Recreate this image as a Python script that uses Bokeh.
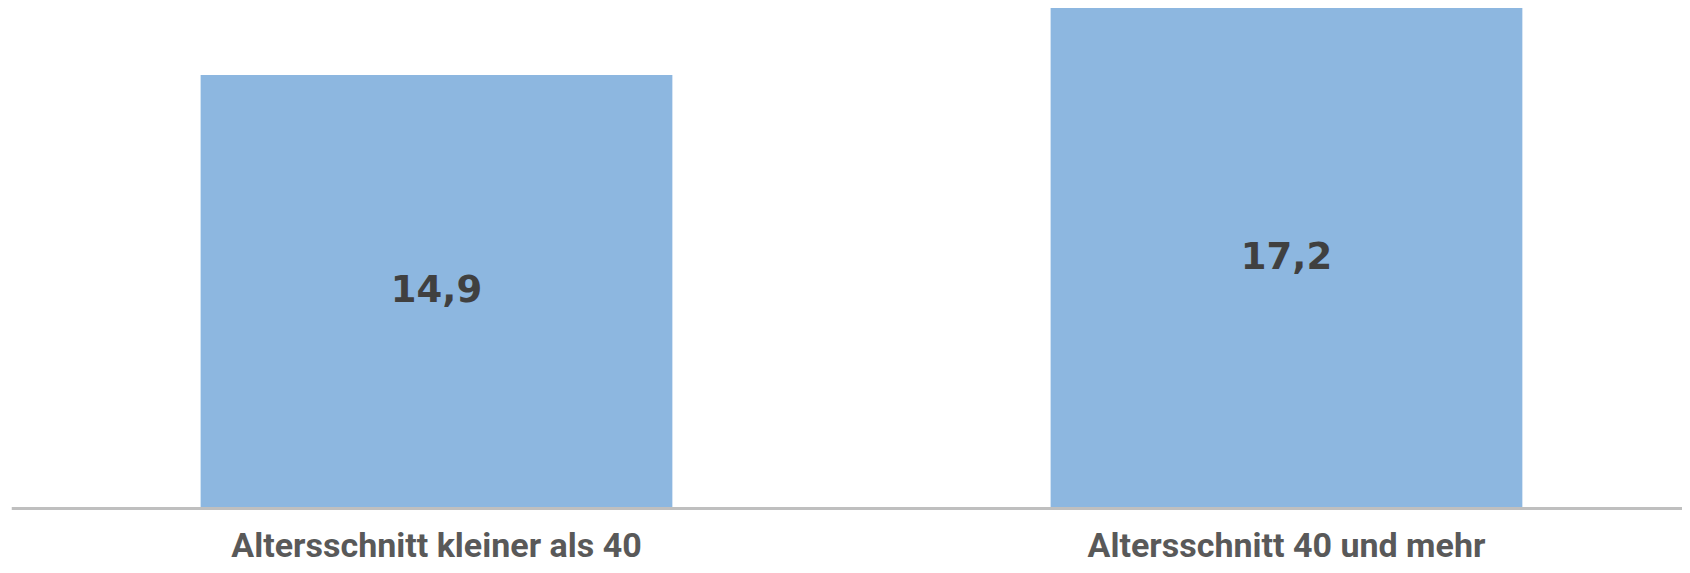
from bokeh.plotting import figure
from bokeh.models import ColumnDataSource, Range1d, Span
from bokeh.core.properties import value
from bokeh.embed import file_html
from bokeh.resources import INLINE

categories = ["Altersschnitt kleiner als 40", "Altersschnitt 40 und mehr"]
values = [14.9, 17.2]
value_labels = ["14,9", "17,2"]

xpos = list(range(len(categories)))
source = ColumnDataSource(data=dict(
    x=xpos,
    top=values,
    mid=[v / 2 for v in values],
    label=value_labels,
))
cat_source = ColumnDataSource(data=dict(
    x=xpos,
    y=[-1.271] * len(categories),
    cat=categories,
))

p = figure(width=1682, height=565, output_backend="svg", toolbar_location=None,
           x_range=Range1d(-0.5, 1.4659), y_range=Range1d(-1.9588, 17.457),
           min_border_left=11, min_border_right=0, min_border_top=0, min_border_bottom=0)

p.vbar(x="x", top="top", bottom=0, width=0.555, source=source,
       fill_color="#8DB7E0", line_color=None)

p.text(x="x", y="mid", text="label", source=source,
       text_align="center", text_baseline="middle", y_offset=-3,
       text_font=value("DejaVu Sans"), text_font_style="bold",
       text_font_size="37px", text_color="#404040")

p.text(x="x", y="y", text="cat", source=cat_source,
       text_align="center", text_baseline="middle",
       text_font=value("Roboto"), text_font_style="bold",
       text_font_size="34px", text_color="#595959")

p.add_layout(Span(location=0, dimension="width", line_color="#BFBFBF", line_width=3))

p.axis.visible = False
p.xgrid.visible = False
p.ygrid.visible = False
p.outline_line_color = None

open("out.html", "w").write(file_html(p, INLINE))
